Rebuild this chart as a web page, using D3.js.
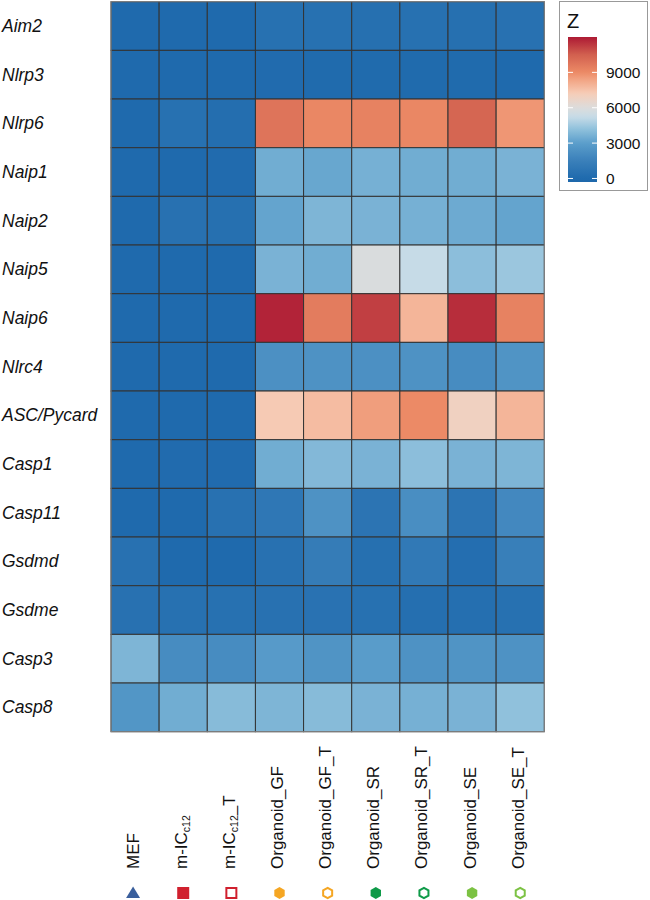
<!DOCTYPE html>
<html><head><meta charset="utf-8">
<script src="https://cdn.jsdelivr.net/npm/d3@7"></script>
<style>body{margin:0;background:#fff;}svg{display:block;font-family:"Liberation Sans",Arial,sans-serif;}</style>
</head><body>
<svg id="chart" width="650" height="900"></svg>
<script>
const genes = ["Aim2","Nlrp3","Nlrp6","Naip1","Naip2","Naip5","Naip6","Nlrc4","ASC/Pycard","Casp1","Casp11","Gsdmd","Gsdme","Casp3","Casp8"];
const samples = ["MEF","m-IC_c12","m-IC_c12_T","Organoid_GF","Organoid_GF_T","Organoid_SR","Organoid_SR_T","Organoid_SE","Organoid_SE_T"];
// Z values, one row per gene, columns in sample order
const zValues = [
  [0, 0, 0, 450, 450, 400, 450, 400, 500],
  [0, 0, 0, 100, 50, 50, 50, 50, 0],
  [0, 450, 250, 9800, 9100, 9300, 9100, 10300, 8700],
  [0, 0, 100, 3500, 3300, 3600, 3500, 3500, 3700],
  [0, 500, 400, 3200, 3800, 3700, 3600, 3400, 3200],
  [0, 0, 0, 3700, 3500, 5900, 5200, 4100, 4400],
  [0, 0, 0, 11800, 9500, 11200, 7900, 11600, 9300],
  [0, 0, 0, 2300, 2400, 2300, 2400, 2100, 2500],
  [0, 0, 0, 7300, 7700, 8500, 9000, 6900, 7900],
  [0, 100, 100, 3500, 3900, 3700, 4100, 3700, 3800],
  [0, 0, 500, 900, 2400, 700, 2200, 700, 1900],
  [500, 0, 0, 500, 1200, 400, 1000, 300, 1400],
  [500, 450, 450, 500, 550, 450, 350, 350, 450],
  [3800, 2100, 2100, 2800, 2500, 2900, 2400, 2500, 2400],
  [2600, 3500, 4000, 3800, 4000, 3700, 3600, 3700, 4200]
];
const legendTicks = [0, 3000, 6000, 9000];
const zLimits = [-300, 12000];
const symbolShapes = ["triangle","square","square","hexagon","hexagon","hexagon","hexagon","hexagon","hexagon"];
const symbolFilled = [true, true, false, true, false, true, false, true, false];
const symbolColors = ["#3a5f9c","#d0202e","#d0202e","#f5a623","#f5a623","#0e9a48","#0e9a48","#7cc243","#7cc243"];

const colorStops = [-300, 0, 1500, 3000, 4200, 5200, 6000, 7200, 8200, 9000, 10500, 12000];
const colorRange = ["#1e68ab","#1f6aad","#3a80ba","#5b9ecb","#90c1dc","#c6dbe7","#dcdcdc","#f6cdb8","#f3aa8b","#ec8a66","#d2604f","#ad1a34"];
const color = d3.scaleLinear().domain(colorStops).range(colorRange).interpolate(d3.interpolateRgb).clamp(true);

const svg = d3.select("#chart");
const pLeft = 111, pRight = 544.3, pTop = 1.7, pBottom = 731.7;
const x = d3.scaleBand().domain(samples).range([pLeft, pRight]);
const y = d3.scaleBand().domain(genes).range([pTop, pBottom]);

const cells = [];
genes.forEach((g, i) => samples.forEach((s, j) => cells.push({g, s, v: zValues[i][j]})));
svg.append("g").selectAll("rect").data(cells).join("rect")
  .attr("x", d => x(d.s)).attr("y", d => y(d.g))
  .attr("width", x.bandwidth()).attr("height", y.bandwidth())
  .attr("fill", d => color(d.v))
  .attr("stroke", "#333").attr("stroke-width", 1);
svg.append("rect").attr("x", pLeft).attr("y", pTop).attr("width", pRight-pLeft).attr("height", pBottom-pTop)
  .attr("fill", "none").attr("stroke", "#888").attr("stroke-width", 1);

// gene labels
svg.append("g").selectAll("text").data(genes).join("text")
  .attr("x", 2).attr("y", d => y(d) + y.bandwidth()/2)
  .attr("dy", "0.35em").attr("font-size", 17.5).attr("font-style", "italic").attr("fill", "#111")
  .text(d => d);

// sample labels
const xl = svg.append("g").selectAll("text").data(samples).join("text")
  .attr("transform", d => `translate(${x(d) + x.bandwidth()/2 + 3.5},869) rotate(-90)`)
  .attr("font-size", 17).attr("fill", "#111");
xl.each(function(d) {
  const t = d3.select(this);
  if (d.startsWith("m-IC")) {
    t.append("tspan").text("m-IC");
    t.append("tspan").attr("font-size", 10.5).attr("dy", 3).text("c12");
    if (d.endsWith("_T")) t.append("tspan").attr("dy", -3).text("_T");
  } else t.text(d);
});

// symbols
const sy = 893;
const hex = r => d3.range(6).map(k => { const a = Math.PI/3*k - Math.PI/2; return [r*Math.cos(a), r*Math.sin(a)]; });
samples.forEach((s, j) => {
  const cx = x(s) + x.bandwidth()/2;
  const col = symbolColors[j], filled = symbolFilled[j];
  const g = svg.append("g").attr("transform", `translate(${cx},${sy})`);
  if (symbolShapes[j] === "triangle") {
    g.append("path").attr("d", "M-7,5L7,5L0,-6.5Z").attr("fill", col).attr("transform","translate(-2,0)");
  } else if (symbolShapes[j] === "square") {
    if (filled) g.append("rect").attr("x", -6).attr("y", -6).attr("width", 12).attr("height", 12).attr("fill", col);
    else g.append("rect").attr("x", -5).attr("y", -5).attr("width", 10).attr("height", 10).attr("fill", "none").attr("stroke", col).attr("stroke-width", 2);
  } else {
    if (filled) g.append("polygon").attr("points", hex(6).join(" ")).attr("fill", col);
    else g.append("polygon").attr("points", hex(5.2).join(" ")).attr("fill", "none").attr("stroke", col).attr("stroke-width", 2);
  }
});

// legend
const lg = svg.append("g");
lg.append("rect").attr("x", 559.5).attr("y", 1.5).attr("width", 88).attr("height", 189)
  .attr("fill", "#fff").attr("stroke", "#999").attr("stroke-width", 1);
lg.append("text").attr("x", 567).attr("y", 28).attr("font-size", 20).attr("fill", "#111").text("Z");
const barX = 568, barW = 29, barTop = 37, barBot = 182;
const ly = d3.scaleLinear().domain(zLimits).range([barBot, barTop]);
const defs = svg.append("defs");
const grad = defs.append("linearGradient").attr("id", "zgrad").attr("x1", 0).attr("y1", 1).attr("x2", 0).attr("y2", 0);
d3.range(0, 1.0001, 0.02).forEach(t => {
  grad.append("stop").attr("offset", t).attr("stop-color", color(zLimits[0] + t*(zLimits[1]-zLimits[0])));
});
lg.append("rect").attr("x", barX).attr("y", barTop).attr("width", barW).attr("height", barBot-barTop).attr("fill", "url(#zgrad)");
legendTicks.forEach(v => {
  const yy = ly(v);
  lg.append("line").attr("x1", barX).attr("x2", barX+5).attr("y1", yy).attr("y2", yy).attr("stroke", "#fff").attr("stroke-width", 1);
  lg.append("line").attr("x1", barX+barW-5).attr("x2", barX+barW).attr("y1", yy).attr("y2", yy).attr("stroke", "#fff").attr("stroke-width", 1);
  lg.append("text").attr("x", 606).attr("y", yy).attr("dy", "0.36em").attr("font-size", 15.5).attr("fill", "#111").text(v);
});
</script>
</body></html>
